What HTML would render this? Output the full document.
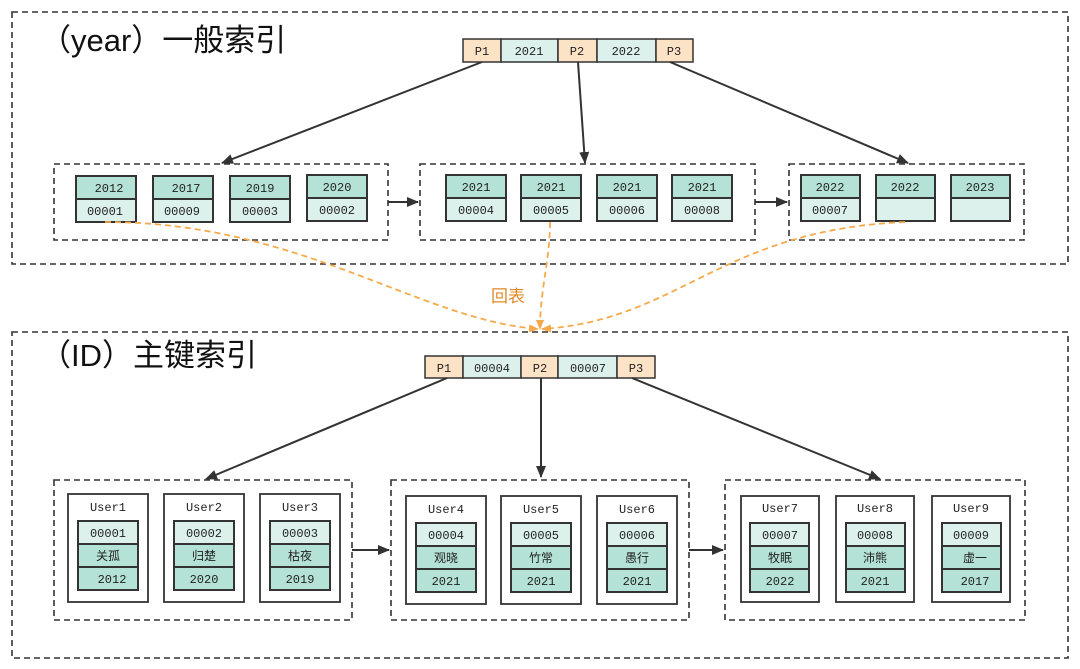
<!DOCTYPE html>
<html><head><meta charset="utf-8"><style>
html,body{margin:0;padding:0;background:#fff;width:1080px;height:669px;overflow:hidden}
text{font-family:"Liberation Mono","Noto Sans CJK SC",monospace;font-size:12px;fill:#222;text-anchor:middle}
.t{font-family:"Liberation Sans","Noto Sans CJK SC",sans-serif;font-size:31px;text-anchor:start;fill:#111}
.d{fill:#b5e2d6;stroke:#333;stroke-width:2}
.l{fill:#dcf1ec;stroke:#333;stroke-width:2}
.o{fill:#fde3c6;stroke:#333;stroke-width:1.5}
.b{fill:none;stroke:#333;stroke-width:1.6;stroke-dasharray:6,4}
.u{fill:#fff;stroke:#333;stroke-width:1.8}
.a{stroke:#333;stroke-width:2;fill:none;marker-end:url(#ah)}
.c{stroke:#f5a94a;stroke-width:1.8;fill:none;stroke-dasharray:6,4}
</style></head><body>
<svg width="1080" height="669" xmlns="http://www.w3.org/2000/svg">
<defs>
<marker id="ah" markerWidth="12" markerHeight="10" refX="11" refY="5" orient="auto" markerUnits="userSpaceOnUse"><path d="M0,0 L12,5 L0,10 z" fill="#333"/></marker>
<marker id="oh" markerWidth="10" markerHeight="8" refX="9" refY="4" orient="auto" markerUnits="userSpaceOnUse"><path d="M0,0 L10,4 L0,8 z" fill="#f5a94a"/></marker>
</defs>
<rect class="b" x="12" y="12" width="1056" height="252"/>
<rect class="b" x="12" y="332" width="1056" height="326"/>
<text class="t" x="40" y="51">（year）一般索引</text>
<text class="t" x="40" y="366">（ID）主键索引</text>

<rect class="o" x="463" y="39" width="38" height="23"/><text x="482" y="55">P1</text>
<rect class="l" x="501" y="39" width="57" height="23" style="stroke-width:1.5"/><text x="529" y="55">2021</text>
<rect class="o" x="558" y="39" width="39" height="23"/><text x="577" y="55">P2</text>
<rect class="l" x="597" y="39" width="59" height="23" style="stroke-width:1.5"/><text x="626" y="55">2022</text>
<rect class="o" x="656" y="39" width="37" height="23"/><text x="674" y="55">P3</text>

<line class="a" x1="482" y1="62" x2="222" y2="163"/>
<line class="a" x1="578" y1="62" x2="585" y2="163"/>
<line class="a" x1="670" y1="62" x2="908" y2="163"/>

<rect class="b" x="54" y="164" width="334" height="76"/>
<rect class="b" x="420" y="164" width="335" height="76"/>
<rect class="b" x="789" y="164" width="235" height="76"/>
<line class="a" x1="388" y1="202" x2="418" y2="202"/>
<line class="a" x1="755" y1="202" x2="787" y2="202"/>

<g>
<rect class="d" x="76" y="176" width="60" height="23"/><text x="109" y="192">2012</text>
<rect class="l" x="76" y="199" width="60" height="23"/><text x="105" y="215">00001</text>
<rect class="d" x="153" y="176" width="60" height="23"/><text x="186" y="192">2017</text>
<rect class="l" x="153" y="199" width="60" height="23"/><text x="182" y="215">00009</text>
<rect class="d" x="230" y="176" width="60" height="23"/><text x="260" y="192">2019</text>
<rect class="l" x="230" y="199" width="60" height="23"/><text x="260" y="215">00003</text>
<rect class="d" x="307" y="175" width="60" height="23"/><text x="337" y="191">2020</text>
<rect class="l" x="307" y="198" width="60" height="23"/><text x="337" y="214">00002</text>

<rect class="d" x="446" y="175" width="60" height="23"/><text x="476" y="191">2021</text>
<rect class="l" x="446" y="198" width="60" height="23"/><text x="476" y="214">00004</text>
<rect class="d" x="521" y="175" width="60" height="23"/><text x="551" y="191">2021</text>
<rect class="l" x="521" y="198" width="60" height="23"/><text x="551" y="214">00005</text>
<rect class="d" x="597" y="175" width="60" height="23"/><text x="627" y="191">2021</text>
<rect class="l" x="597" y="198" width="60" height="23"/><text x="627" y="214">00006</text>
<rect class="d" x="672" y="175" width="60" height="23"/><text x="702" y="191">2021</text>
<rect class="l" x="672" y="198" width="60" height="23"/><text x="702" y="214">00008</text>

<rect class="d" x="801" y="175" width="59" height="23"/><text x="830" y="191">2022</text>
<rect class="l" x="801" y="198" width="59" height="23"/><text x="830" y="214">00007</text>
<rect class="d" x="876" y="175" width="59" height="23"/><text x="905" y="191">2022</text>
<rect class="l" x="876" y="198" width="59" height="23"/>
<rect class="d" x="951" y="175" width="59" height="23"/><text x="980" y="191">2023</text>
<rect class="l" x="951" y="198" width="59" height="23"/>
</g>

<path class="c" d="M105,222 C300,222 420,320 538,329" marker-end="url(#oh)"/>
<path class="c" d="M550,222 C550,260 540,290 540,329" marker-end="url(#oh)"/>
<path class="c" d="M905,222 C720,230 680,320 542,329" marker-end="url(#oh)"/>
<text x="508" y="302" style="font-family:'Liberation Sans','Noto Sans CJK SC',sans-serif;font-size:17px;fill:#e08a2a">回表</text>

<rect class="o" x="425" y="356" width="38" height="22"/><text x="444" y="372">P1</text>
<rect class="l" x="463" y="356" width="58" height="22" style="stroke-width:1.5"/><text x="492" y="372">00004</text>
<rect class="o" x="521" y="356" width="37" height="22"/><text x="540" y="372">P2</text>
<rect class="l" x="558" y="356" width="59" height="22" style="stroke-width:1.5"/><text x="588" y="372">00007</text>
<rect class="o" x="617" y="356" width="38" height="22"/><text x="636" y="372">P3</text>

<line class="a" x1="447" y1="378" x2="206" y2="479"/>
<line class="a" x1="541" y1="378" x2="541" y2="477"/>
<line class="a" x1="632" y1="378" x2="880" y2="479"/>

<rect class="b" x="54" y="480" width="298" height="140"/>
<rect class="b" x="391" y="480" width="298" height="140"/>
<rect class="b" x="725" y="480" width="300" height="140"/>
<line class="a" x1="352" y1="550" x2="389" y2="550"/>
<line class="a" x1="689" y1="550" x2="723" y2="550"/>

<g>
<rect class="u" x="68" y="494" width="80" height="108"/><text x="108" y="511">User1</text>
<rect class="l" x="78" y="521" width="60" height="23"/><text x="108" y="537">00001</text>
<rect class="d" x="78" y="544" width="60" height="23"/><text x="108" y="560">关孤</text>
<rect class="d" x="78" y="567" width="60" height="23"/><text x="112" y="583">2012</text>

<rect class="u" x="164" y="494" width="80" height="108"/><text x="204" y="511">User2</text>
<rect class="l" x="174" y="521" width="60" height="23"/><text x="204" y="537">00002</text>
<rect class="d" x="174" y="544" width="60" height="23"/><text x="204" y="560">归楚</text>
<rect class="d" x="174" y="567" width="60" height="23"/><text x="204" y="583">2020</text>

<rect class="u" x="260" y="494" width="80" height="108"/><text x="300" y="511">User3</text>
<rect class="l" x="270" y="521" width="60" height="23"/><text x="300" y="537">00003</text>
<rect class="d" x="270" y="544" width="60" height="23"/><text x="300" y="560">枯夜</text>
<rect class="d" x="270" y="567" width="60" height="23"/><text x="300" y="583">2019</text>

<rect class="u" x="406" y="496" width="80" height="108"/><text x="446" y="513">User4</text>
<rect class="l" x="416" y="523" width="60" height="23"/><text x="446" y="539">00004</text>
<rect class="d" x="416" y="546" width="60" height="23"/><text x="446" y="562">观晓</text>
<rect class="d" x="416" y="569" width="60" height="23"/><text x="446" y="585">2021</text>

<rect class="u" x="501" y="496" width="80" height="108"/><text x="541" y="513">User5</text>
<rect class="l" x="511" y="523" width="60" height="23"/><text x="541" y="539">00005</text>
<rect class="d" x="511" y="546" width="60" height="23"/><text x="541" y="562">竹常</text>
<rect class="d" x="511" y="569" width="60" height="23"/><text x="541" y="585">2021</text>

<rect class="u" x="597" y="496" width="80" height="108"/><text x="637" y="513">User6</text>
<rect class="l" x="607" y="523" width="60" height="23"/><text x="637" y="539">00006</text>
<rect class="d" x="607" y="546" width="60" height="23"/><text x="637" y="562">愚行</text>
<rect class="d" x="607" y="569" width="60" height="23"/><text x="637" y="585">2021</text>

<rect class="u" x="741" y="496" width="78" height="106"/><text x="780" y="512">User7</text>
<rect class="l" x="750" y="523" width="59" height="23"/><text x="780" y="539">00007</text>
<rect class="d" x="750" y="546" width="59" height="23"/><text x="780" y="562">牧眠</text>
<rect class="d" x="750" y="569" width="59" height="23"/><text x="780" y="585">2022</text>

<rect class="u" x="836" y="496" width="78" height="106"/><text x="875" y="512">User8</text>
<rect class="l" x="846" y="523" width="59" height="23"/><text x="875" y="539">00008</text>
<rect class="d" x="846" y="546" width="59" height="23"/><text x="875" y="562">沛熊</text>
<rect class="d" x="846" y="569" width="59" height="23"/><text x="875" y="585">2021</text>

<rect class="u" x="932" y="496" width="78" height="106"/><text x="971" y="512">User9</text>
<rect class="l" x="942" y="523" width="59" height="23"/><text x="971" y="539">00009</text>
<rect class="d" x="942" y="546" width="59" height="23"/><text x="975" y="562">虚一</text>
<rect class="d" x="942" y="569" width="59" height="23"/><text x="975" y="585">2017</text>
</g>
</svg>
</body></html>
